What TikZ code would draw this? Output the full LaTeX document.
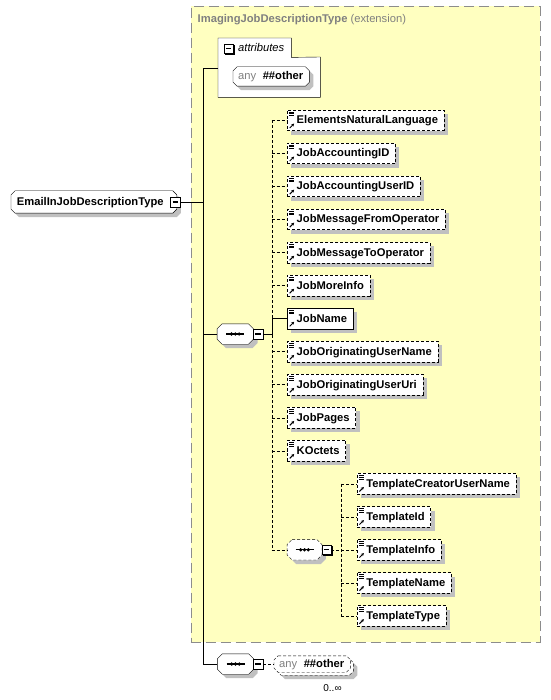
\documentclass[tikz,border=0pt]{standalone}
\usepackage{fontspec}
\setmainfont{Liberation Sans}
\usetikzlibrary{shadows,arrows.meta,calc}
\definecolor{extyellow}{HTML}{FFFFC0}
\definecolor{shadowc}{HTML}{C0C0C0}
\definecolor{greytxt}{HTML}{808080}
\definecolor{extborder}{HTML}{8C8C8C}
\pgfdeclarelayer{back}
\pgfdeclarelayer{bg}
\pgfsetlayers{back,bg,main}
\newcommand\fsz{\fontsize{11.2pt}{13pt}\selectfont}
% style, node, cut, shift
\newcommand\octo[4]{%
  \path[#1] ([shift={(#4+#3,#4)}]#2.north west) -- ([shift={(#4-#3,#4)}]#2.north east)
   -- ([shift={(#4,#4+#3)}]#2.north east) -- ([shift={(#4,#4-#3)}]#2.south east)
   -- ([shift={(#4-#3,#4)}]#2.south east) -- ([shift={(#4+#3,#4)}]#2.south west)
   -- ([shift={(#4,#4-#3)}]#2.south west) -- ([shift={(#4,#4+#3)}]#2.north west) -- cycle;}
% node, cut, extra outline style
\newcommand\octnode[3]{%
  \begin{pgfonlayer}{bg}
  \octo{fill=shadowc}{#1}{#2}{4}
  \octo{fill=white,draw=black,#3}{#1}{#2}{0}
  \end{pgfonlayer}}
\newcommand\seqglyph[1]{%
  \draw[solid,line width=1.2pt] ([xshift=-9pt]#1.center) -- ([xshift=9pt]#1.center);
  \fill ([xshift=-3.8pt]#1.center) circle[radius=1.8pt];
  \fill (#1.center) circle[radius=1.8pt];
  \fill ([xshift=3.8pt]#1.center) circle[radius=1.8pt];}
\begin{document}
\begin{tikzpicture}[x=1pt,y=-1pt,line width=1.1pt,
  every node/.style={font=\fsz},
  opt/.style={dash pattern=on 3pt off 2pt},
  elemicon/.style={path picture={
    \draw[solid,line width=0.8pt] ([shift={(2,2)}]path picture bounding box.north west) -- ++(5,0);
    \draw[solid,line width=0.8pt] ([shift={(2,3.8)}]path picture bounding box.north west) -- ++(5,0);
    \draw[solid,line width=0.8pt] ([shift={(2,5.6)}]path picture bounding box.north west) -- ++(5,0);
    \draw[solid,line width=1pt,-{Stealth[length=3pt,width=3pt]}] ([shift={(2.5,-2.5)}]path picture bounding box.south west) -- ++(4.5,-4.5);
  }},
  elem/.style={draw, fill=white, anchor=west, minimum height=20.5pt, inner xsep=0pt, inner ysep=0pt,
    text height=8pt, text depth=1pt, font=\fsz\bfseries,
    drop shadow={shadow xshift=4pt,shadow yshift=-4pt,fill=shadowc,opacity=1}, elemicon},
  octtext/.style={anchor=west, inner xsep=0pt, inner ysep=0pt, text height=8pt, text depth=1pt},
  seqn/.style={minimum width=36pt, minimum height=20pt, inner sep=0pt},
  minusbox/.style={draw, fill=white, minimum size=9.5pt, inner sep=0pt, solid,
    drop shadow={shadow xshift=1.4pt,shadow yshift=-1.4pt,fill=black,opacity=1},
    path picture={\draw[line width=1.1pt] ([xshift=2pt]path picture bounding box.west) -- ([xshift=-2pt]path picture bounding box.east);}}
]
\useasboundingbox (0,0) rectangle (550,700);

\begin{pgfonlayer}{back}
\node[draw=extborder, fill=extyellow, dash pattern=on 10pt off 5pt, anchor=north west,
  minimum width=349pt, minimum height=635.5pt, inner sep=0pt] (ext) at (190.5,6) {};
\end{pgfonlayer}

\node[anchor=west, text=greytxt, inner sep=0pt] (title) at (197.5,20) {\textbf{ImagingJobDescriptionType} (extension)};

% root
\node[octtext, minimum height=22pt, font=\fsz\bfseries] (root) at (11,202) {\hspace*{5.7pt}EmailInJobDescriptionType\hspace*{13pt}};
\octnode{root}{4}{}
\node[minusbox] (mroot) at ($(root.east)+(-1.5,0)$) {};

% attributes
\node[anchor=north west, minimum width=73pt, minimum height=19pt, inner sep=0pt] (attrtab) at (218,38) {};
\node[anchor=north west, minimum width=102pt, minimum height=40pt, inner sep=0pt] (attrbody) at (218,57) {};
\begin{pgfonlayer}{bg}
\draw[fill=white] (attrtab.north west) -- (attrtab.north east) -- (attrtab.south east) -- (attrbody.north east)
  -- (attrbody.south east) -- (attrbody.south west) -- cycle;
\end{pgfonlayer}
\node[minusbox] (mattr) at (228.5,48.5) {};
\node[anchor=west, inner sep=0pt, font=\fsz\itshape] (attrlabel) at (238,48) {attributes};
\node[octtext, minimum height=19pt] (anyA) at (233,76.5) {\hspace*{5pt}\textcolor{greytxt}{any}\hspace*{6.5pt}\textbf{\#\#other}\hspace*{6pt}};
\octnode{anyA}{4}{}

% sequence 1
\node[seqn] (seq1) at (235.3,334) {};
\octnode{seq1}{5}{}
\seqglyph{seq1}
\node[minusbox] (m1) at ($(seq1.east)+(4.5,0)$) {};

% elements
\foreach \nm/\lab/\yy in {
  e1/ElementsNaturalLanguage/120.3,
  e2/JobAccountingID/153.3,
  e3/JobAccountingUserID/186.4,
  e4/JobMessageFromOperator/219.4,
  e5/JobMessageToOperator/252.5,
  e6/JobMoreInfo/285.5,
  e8/JobOriginatingUserName/351.6,
  e9/JobOriginatingUserUri/384.6,
  e10/JobPages/417.7,
  e11/KOctets/450.7}
  \node[elem,opt] (\nm) at (287,\yy) {\hspace*{9.5pt}\lab\hspace*{6pt}};
\node[elem] (e7) at (287,318.5) {\hspace*{9.5pt}JobName\hspace*{6pt}};

% sequence 2
\node[seqn, minimum width=34.5pt] (seq2) at (304.5,549.8) {};
\octnode{seq2}{5}{opt}
\seqglyph{seq2}
\node[minusbox] (m2) at ($(seq2.east)+(4.5,0)$) {};

\foreach \nm/\lab/\yy in {
  t1/TemplateCreatorUserName/483.7,
  t2/TemplateId/516.8,
  t3/TemplateInfo/549.8,
  t4/TemplateName/582.9,
  t5/TemplateType/615.9}
  \node[elem,opt] (\nm) at (356.7,\yy) {\hspace*{9.5pt}\lab\hspace*{6pt}};

% sequence 3
\node[seqn] (seq3) at (235.5,664) {};
\octnode{seq3}{5}{}
\seqglyph{seq3}
\node[minusbox] (m3) at ($(seq3.east)+(4.5,0)$) {};

\node[octtext, minimum height=16pt] (anyB) at (274,664) {\hspace*{5pt}\textcolor{greytxt}{any}\hspace*{6.5pt}\textbf{\#\#other}\hspace*{6pt}};
\begin{pgfonlayer}{bg}
\octo{fill=shadowc}{anyB}{4}{7}
\octo{fill=white,draw=black,opt}{anyB}{4}{3}
\octo{fill=white,draw=black,opt}{anyB}{4}{0}
\end{pgfonlayer}
\node[inner sep=0pt, font=\fontsize{10pt}{12pt}\selectfont] (mult) at (332.5,688) {0..∞};

% connectors
\coordinate (trunkTop) at (203,68.3);
\coordinate (j1) at (271.7,334);
\coordinate (j2) at (341,549.8);
\draw (attrbody.west |- trunkTop) -- (trunkTop) -- (trunkTop |- seq3.west) -- (seq3.west);
\draw (mroot.east) -- (mroot.east -| trunkTop);
\draw (seq1.west -| trunkTop) -- (seq1.west);

\draw[opt] (e1.west -| j1) -- (seq2.west -| j1);
\foreach \n in {e1,e2,e3,e4,e5,e6,e8,e9,e10,e11}
  \draw[opt] (\n.west -| j1) -- (\n.west);
\draw[opt] (seq2.west -| j1) -- (seq2.west);
\draw (m1.east) -- (j1) -- (e7.west -| j1) -- (e7.west);

\draw[opt] (m2.east) -- (j2);
\draw[opt] (t1.west -| j2) -- (t5.west -| j2);
\foreach \n in {t1,t2,t3,t4,t5}
  \draw[opt] (\n.west -| j2) -- (\n.west);

\draw[opt] (m3.east) -- (anyB.west);
\end{tikzpicture}
\end{document}
